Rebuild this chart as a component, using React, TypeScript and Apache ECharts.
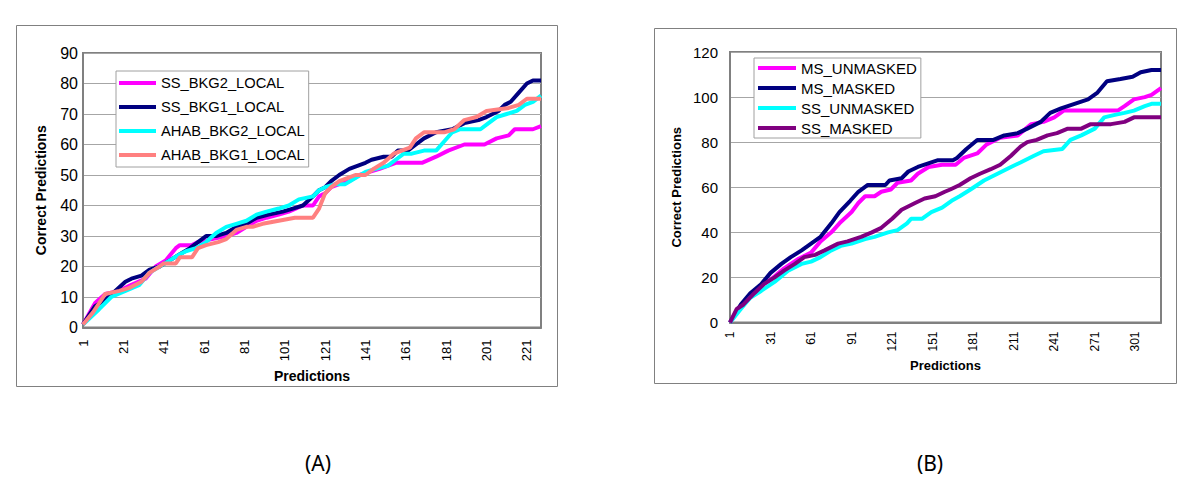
import React, { useEffect, useRef } from "react";
import * as echarts from "echarts";

// ---------- data ----------
const leftCount = 228;
const rightCount = 320;
const leftTicks = [1, 21, 41, 61, 81, 101, 121, 141, 161, 181, 201, 221];
const rightTicks = [1, 31, 61, 91, 121, 151, 181, 211, 241, 271, 301];

const leftNames = ["SS_BKG2_LOCAL", "SS_BKG1_LOCAL", "AHAB_BKG2_LOCAL", "AHAB_BKG1_LOCAL"];
const rightNames = ["MS_UNMASKED", "MS_MASKED", "SS_UNMASKED", "SS_MASKED"];

// [prediction number, cumulative correct predictions]
const ssBkg2Local = [
  [1, 1], [7, 8], [12, 11], [19, 12], [25, 14], [32, 16], [37, 20], [42, 22], [47, 26], [49, 27],
  [55, 27], [58, 28], [65, 29], [72, 30], [77, 31], [82, 33], [87, 35], [92, 36], [98, 37], [103, 38],
  [110, 40], [115, 40], [118, 43], [121, 44], [124, 46], [128, 47], [133, 48], [138, 50], [143, 51],
  [148, 52], [152, 53], [156, 54], [169, 54], [176, 56], [182, 58], [190, 60], [200, 60], [206, 62],
  [212, 63], [215, 65], [224, 65], [228, 66],
];
const ssBkg1Local = [
  [1, 1], [7, 7], [12, 9], [17, 12], [22, 15], [25, 16], [30, 17], [34, 19], [39, 20], [44, 22],
  [49, 24], [54, 26], [58, 28], [62, 30], [67, 30], [72, 31], [77, 33], [82, 34], [87, 36], [93, 37],
  [100, 38], [105, 39], [110, 40], [115, 43], [118, 45], [121, 46], [124, 48], [128, 50], [133, 52],
  [137, 53], [141, 54], [144, 55], [150, 56], [154, 56], [157, 58], [162, 58], [166, 60], [170, 62],
  [176, 64], [184, 65], [190, 67], [197, 68], [201, 69], [207, 71], [210, 73], [213, 74], [217, 77],
  [221, 80], [224, 81], [228, 81],
];
const ahabBkg2Local = [
  [1, 1], [9, 6], [15, 10], [22, 12], [29, 14], [34, 18], [39, 20], [44, 22], [49, 24], [52, 25],
  [57, 26], [62, 28], [67, 31], [72, 33], [77, 34], [82, 35], [87, 37], [92, 38], [98, 39], [103, 40],
  [108, 42], [115, 43], [118, 45], [121, 46], [126, 47], [131, 47], [136, 49], [141, 51], [146, 52],
  [152, 53], [156, 55], [160, 57], [164, 57], [170, 58], [176, 58], [180, 61], [184, 64], [188, 65],
  [198, 65], [202, 67], [206, 69], [211, 70], [216, 71], [220, 73], [224, 74], [228, 76],
];
const ahabBkg1Local = [
  [1, 1], [6, 5], [11, 10], [12, 11], [19, 12], [24, 13], [27, 14], [30, 15], [34, 18], [39, 20],
  [41, 21], [47, 21], [49, 23], [55, 23], [58, 26], [62, 27], [68, 28], [72, 29], [77, 32], [82, 33],
  [85, 33], [90, 34], [98, 35], [106, 36], [115, 36], [118, 39], [121, 44], [124, 46], [128, 48],
  [132, 49], [136, 50], [141, 50], [145, 52], [150, 54], [155, 57], [159, 58], [163, 59], [166, 62],
  [170, 64], [180, 64], [185, 65], [190, 68], [196, 69], [201, 71], [212, 72], [217, 73], [221, 75],
  [228, 75],
];

const msUnmasked = [
  [1, 0], [11, 9], [21, 15], [31, 19], [41, 24], [51, 28], [61, 31], [68, 36], [76, 40], [82, 44],
  [91, 49], [96, 53], [101, 56], [108, 56], [113, 58], [120, 59], [125, 62], [135, 63], [140, 66],
  [148, 69], [158, 70], [168, 70], [174, 73], [184, 75], [191, 79], [201, 82], [214, 83], [224, 88],
  [233, 89], [241, 91], [248, 94], [288, 94], [293, 96], [300, 99], [308, 100], [313, 101], [320, 104],
];
const msMasked = [
  [1, 0], [9, 8], [16, 13], [24, 17], [31, 22], [39, 26], [46, 29], [54, 32], [61, 35], [68, 38],
  [76, 44], [82, 49], [90, 54], [96, 58], [103, 61], [116, 61], [119, 63], [128, 64], [133, 67],
  [140, 69], [145, 70], [155, 72], [166, 72], [169, 73], [176, 77], [184, 81], [196, 81], [204, 83],
  [214, 84], [221, 86], [231, 89], [238, 93], [246, 95], [256, 97], [266, 99], [273, 102], [280, 107],
  [290, 108], [299, 109], [305, 111], [313, 112], [320, 112],
];
const ssUnmasked = [
  [1, 0], [9, 6], [16, 11], [24, 14], [34, 18], [44, 23], [54, 26], [61, 27], [68, 29], [76, 32],
  [83, 34], [91, 35], [101, 37], [108, 38], [118, 40], [125, 41], [132, 44], [135, 46], [143, 46],
  [150, 49], [158, 51], [165, 54], [171, 56], [179, 59], [189, 63], [199, 66], [209, 69], [216, 71],
  [226, 74], [233, 76], [247, 77], [253, 81], [261, 83], [271, 86], [278, 91], [285, 92], [293, 93],
  [300, 94], [308, 96], [313, 97], [320, 97],
];
const ssMasked = [
  [1, 0], [6, 6], [11, 8], [19, 13], [26, 17], [34, 20], [41, 23], [49, 26], [56, 29], [64, 30],
  [71, 32], [81, 35], [88, 36], [98, 38], [106, 40], [113, 42], [121, 46], [128, 50], [138, 53],
  [145, 55], [153, 56], [160, 58], [164, 59], [171, 61], [179, 64], [186, 66], [194, 68], [201, 70],
  [209, 74], [216, 78], [221, 80], [228, 81], [236, 83], [243, 84], [251, 86], [261, 86], [268, 88],
  [283, 88], [293, 89], [300, 91], [320, 91],
];

const leftColors = ["#FF00FF", "#000080", "#00FFFF", "#FF8080"];
const rightColors = ["#FF00FF", "#000080", "#00FFFF", "#800080"];

const FONT = "'Liberation Sans', Arial, sans-serif";

function lineSeries(name: string, data: number[][], color: string, idx: number) {
  return {
    type: "line",
    name,
    data,
    xAxisIndex: idx,
    yAxisIndex: idx,
    symbol: "none",
    showSymbol: false,
    color,
    lineStyle: { width: 4, color },
    itemStyle: { color },
    emphasis: { disabled: true },
    silent: true,
    clip: true,
  };
}

export default function App() {
  const ref = useRef<HTMLDivElement>(null);

  useEffect(() => {
    if (!ref.current) return;
    const chart = echarts.init(ref.current, null, { renderer: "svg" });

    const axisLineStyle = { color: "#808080", width: 2 };
    const gridLine = { lineStyle: { color: "#a6a6a6", width: 1 } };
    const nameStyle = (size: number) => ({
      fontWeight: "bold",
      fontSize: size,
      fontFamily: FONT,
      color: "#000",
    });

    const option = {
      animation: false,
      backgroundColor: "#fff",
      grid: [
        { left: 83, right: 659, top: 53, bottom: 152.5, show: true, borderColor: "#808080", borderWidth: 2 },
        { left: 730, right: 39, top: 52, bottom: 157.5, show: true, borderColor: "#808080", borderWidth: 2 },
      ],
      xAxis: [
        {
          gridIndex: 0,
          type: "value",
          min: 1,
          max: leftCount,
          axisLine: { show: true, lineStyle: axisLineStyle },
          axisTick: { show: false },
          splitLine: { show: false },
          axisLabel: {
            customValues: leftTicks,
            rotate: 90,
            fontSize: 13,
            fontFamily: FONT,
            color: "#000",
            margin: 12,
          },
          name: "Predictions",
          nameLocation: "middle",
          nameGap: 40,
          nameTextStyle: nameStyle(14),
        },
        {
          gridIndex: 1,
          type: "value",
          min: 1,
          max: rightCount,
          axisLine: { show: true, lineStyle: axisLineStyle },
          axisTick: { show: false },
          splitLine: { show: false },
          axisLabel: {
            customValues: rightTicks,
            rotate: 90,
            fontSize: 12,
            fontFamily: FONT,
            color: "#000",
            margin: 9,
          },
          name: "Predictions",
          nameLocation: "middle",
          nameGap: 36,
          nameTextStyle: nameStyle(13),
        },
      ],
      yAxis: [
        {
          gridIndex: 0,
          type: "value",
          min: 0,
          max: 90,
          interval: 10,
          axisLine: { show: true, lineStyle: axisLineStyle },
          axisTick: { show: false },
          splitLine: gridLine,
          axisLabel: { fontSize: 16, fontFamily: FONT, color: "#000", margin: 5 },
          name: "Correct Predictions",
          nameLocation: "middle",
          nameGap: 35,
          nameTextStyle: nameStyle(14),
        },
        {
          gridIndex: 1,
          type: "value",
          min: 0,
          max: 120,
          interval: 20,
          axisLine: { show: true, lineStyle: axisLineStyle },
          axisTick: { show: false },
          splitLine: gridLine,
          axisLabel: { fontSize: 15, fontFamily: FONT, color: "#000", margin: 12 },
          name: "Correct Predictions",
          nameLocation: "middle",
          nameGap: 47,
          nameTextStyle: nameStyle(13),
        },
      ],
      legend: [
        {
          data: leftNames,
          left: 116,
          top: 71,
          orient: "vertical",
          icon: "rect",
          itemWidth: 37,
          itemHeight: 4,
          itemGap: 6,
          padding: [3, 4, 3, 3],
          borderColor: "#a0a0a0",
          borderWidth: 1,
          backgroundColor: "#fff",
          selectedMode: false,
          textStyle: { fontSize: 14.7, fontFamily: FONT, color: "#000", lineHeight: 18 },
        },
        {
          data: rightNames,
          left: 754,
          top: 58,
          orient: "vertical",
          icon: "rect",
          itemWidth: 38,
          itemHeight: 4,
          itemGap: 4,
          padding: [2, 4, 2, 4],
          borderColor: "#a0a0a0",
          borderWidth: 1,
          backgroundColor: "#fff",
          selectedMode: false,
          textStyle: { fontSize: 15, fontFamily: FONT, color: "#000", lineHeight: 16 },
        },
      ],
      graphic: [
        {
          type: "rect",
          silent: true,
          z: -10,
          shape: { x: 16.5, y: 25.5, width: 541, height: 361 },
          style: { fill: "none", stroke: "#808080", lineWidth: 1 },
        },
        {
          type: "rect",
          silent: true,
          z: -10,
          shape: { x: 654.5, y: 28.5, width: 522, height: 355 },
          style: { fill: "none", stroke: "#808080", lineWidth: 1 },
        },
        {
          type: "text",
          silent: true,
          x: 318,
          y: 463,
          style: {
            text: "(A)",
            fontSize: 21,
            fontFamily: "'Noto Sans', 'DejaVu Sans', sans-serif",
            fill: "#000",
            align: "center",
            verticalAlign: "middle",
            textAlign: "center",
            textVerticalAlign: "middle",
          },
        },
        {
          type: "text",
          silent: true,
          x: 930,
          y: 463,
          style: {
            text: "(B)",
            fontSize: 21,
            fontFamily: "'Noto Sans', 'DejaVu Sans', sans-serif",
            fill: "#000",
            align: "center",
            verticalAlign: "middle",
            textAlign: "center",
            textVerticalAlign: "middle",
          },
        },
      ],
      series: [
        lineSeries(leftNames[0], ssBkg2Local, leftColors[0], 0),
        lineSeries(leftNames[1], ssBkg1Local, leftColors[1], 0),
        lineSeries(leftNames[2], ahabBkg2Local, leftColors[2], 0),
        lineSeries(leftNames[3], ahabBkg1Local, leftColors[3], 0),
        lineSeries(rightNames[0], msUnmasked, rightColors[0], 1),
        lineSeries(rightNames[1], msMasked, rightColors[1], 1),
        lineSeries(rightNames[2], ssUnmasked, rightColors[2], 1),
        lineSeries(rightNames[3], ssMasked, rightColors[3], 1),
      ],
    };

    chart.setOption(option as any);
    return () => {
      chart.dispose();
    };
  }, []);

  return (
    <div
      ref={ref}
      style={{ position: "fixed", left: 0, top: 0, width: 1200, height: 480, background: "#fff" }}
    />
  );
}
